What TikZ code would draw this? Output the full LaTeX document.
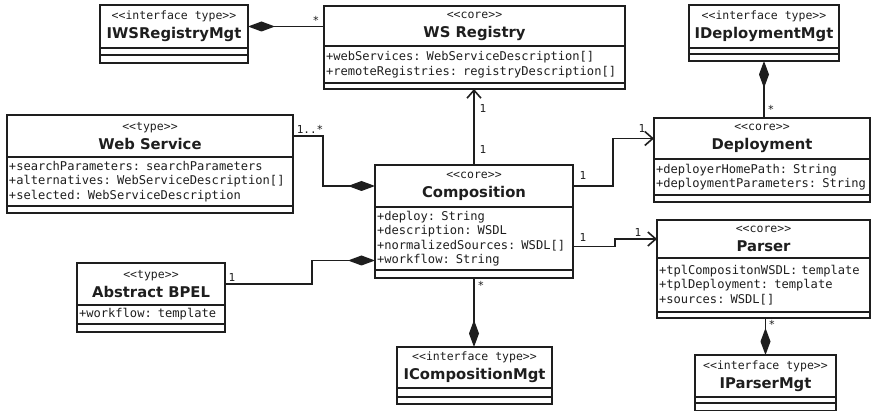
\documentclass[tikz,border=0pt]{standalone}
\usepackage{fontspec}
\setmainfont{DejaVu Sans}
\setmonofont{DejaVu Sans Mono}
\usetikzlibrary{arrows.meta, positioning}
\definecolor{umlink}{RGB}{30,30,30}
\newcommand{\umlstereo}[1]{{\mdseries\ttfamily\fontsize{11.5}{13}\selectfont <<#1>>}}
\tikzset{
  clsname/.style={rectangle, draw=umlink, line width=1.6pt, text=umlink, outer sep=0pt,
    minimum height=42pt, inner sep=0pt, align=center,
    font=\fontsize{14.8}{19}\selectfont\bfseries},
  clsattr/.style={rectangle, draw=umlink, line width=1.6pt, text=umlink, outer sep=0pt,
    inner xsep=2pt, inner ysep=0pt, align=left,
    font=\ttfamily\fontsize{12.1}{14.5}\selectfont},
  clsops/.style={rectangle, draw=umlink, line width=1.6pt, outer sep=0pt,
    minimum height=7pt, inner sep=0pt},
  compo/.style={-{Diamond[length=27pt,width=10pt]}, line width=1.6pt, umlink},
  nav/.style={-{Straight Barb[length=8pt,width=14pt]}, line width=1.6pt, umlink},
  mult/.style={anchor=base, inner sep=0pt, text=umlink,
    font=\ttfamily\fontsize{11}{12}\selectfont}
}
\begin{document}
\begin{tikzpicture}[x=1pt, y=-1pt]
  \useasboundingbox (0,0) rectangle (871,411);
  % classes
  \node[clsname, minimum width=148pt, minimum height=43pt, anchor=north west] (iwsN) at (100,5) {\umlstereo{interface type}\\IWSRegistryMgt};
  \node[clsattr, text width=144pt, minimum height=7pt, below=0pt of iwsN] (iwsA) {};
  \node[clsops, minimum width=148pt, minimum height=8pt, below=0pt of iwsA] (iwsO) {};

  \node[clsname, minimum width=301pt, minimum height=40pt, anchor=north west] (wsN) at (324,6) {\umlstereo{core}\\WS Registry};
  \node[clsattr, text width=297pt, minimum height=37pt, below=0pt of wsN] (wsA) {+webServices: WebServiceDescription[]\\+remoteRegistries: registryDescription[]};
  \node[clsops, minimum width=301pt, minimum height=6pt, below=0pt of wsA] (wsO) {};

  \node[clsname, minimum width=150pt, minimum height=43pt, anchor=north west] (idepN) at (689,5) {\umlstereo{interface type}\\IDeploymentMgt};
  \node[clsattr, text width=146pt, minimum height=6pt, below=0pt of idepN] (idepA) {};
  \node[clsops, minimum width=150pt, minimum height=7pt, below=0pt of idepA] (idepO) {};

  \node[clsname, minimum width=286pt, anchor=north west] (wsvN) at (7,115) {\umlstereo{type}\\Web Service};
  \node[clsattr, text width=282pt, minimum height=49pt, below=0pt of wsvN] (wsvA) {+searchParameters: searchParameters\\+alternatives: WebServiceDescription[]\\+selected: WebServiceDescription};
  \node[clsops, minimum width=286pt, below=0pt of wsvA] (wsvO) {};

  \node[clsname, minimum width=198pt, anchor=north west] (compN) at (375,165) {\umlstereo{core}\\Composition};
  \node[clsattr, text width=194pt, minimum height=63pt, below=0pt of compN] (compA) {+deploy: String\\+description: WSDL\\+normalizedSources: WSDL[]\\+workflow: String};
  \node[clsops, minimum width=198pt, minimum height=8pt, below=0pt of compA] (compO) {};

  \node[clsname, minimum width=216pt, minimum height=41pt, anchor=north west] (depN) at (654,118) {\umlstereo{core}\\Deployment};
  \node[clsattr, text width=212pt, minimum height=36pt, below=0pt of depN] (depA) {+deployerHomePath: String\\+deploymentParameters: String};
  \node[clsops, minimum width=216pt, below=0pt of depA] (depO) {};

  \node[clsname, minimum width=213pt, minimum height=38pt, anchor=north west] (parN) at (657,220) {\umlstereo{core}\\Parser};
  \node[clsattr, text width=209pt, minimum height=54pt, below=0pt of parN] (parA) {+tplCompositonWSDL: template\\+tplDeployment: template\\+sources: WSDL[]};
  \node[clsops, minimum width=213pt, minimum height=6pt, below=0pt of parA] (parO) {};

  \node[clsname, minimum width=148pt, anchor=north west] (bpelN) at (77,263) {\umlstereo{type}\\Abstract BPEL};
  \node[clsattr, text width=144pt, minimum height=19pt, below=0pt of bpelN] (bpelA) {+workflow: template};
  \node[clsops, minimum width=148pt, minimum height=8pt, below=0pt of bpelA] (bpelO) {};

  \node[clsname, minimum width=155pt, minimum height=41pt, anchor=north west] (icompN) at (397,347) {\umlstereo{interface type}\\ICompositionMgt};
  \node[clsattr, text width=151pt, minimum height=9pt, below=0pt of icompN] (icompA) {};
  \node[clsops, minimum width=155pt, below=0pt of icompA] (icompO) {};

  \node[clsname, minimum width=141pt, anchor=north west] (iparN) at (695,355) {\umlstereo{interface type}\\IParserMgt};
  \node[clsattr, text width=137pt, minimum height=6pt, below=0pt of iparN] (iparA) {};
  \node[clsops, minimum width=141pt, minimum height=8pt, below=0pt of iparA] (iparO) {};

  % connectors
  \draw[compo] (iwsN.east -| wsN.west) -- (iwsN.east);
  \draw[nav] (compN.north) -- (compN.north |- wsO.south);
  \draw[compo] (depN.north -| idepO.south) -- (idepO.south);
  \draw[compo] (wsvN.east) -- ++(30,0) |- (compN.west);
  \draw[nav] (compN.east) -- ++(40,0) |- (depN.west);
  \draw[nav] ([yshift=-8pt]compA.east) -- ++(42,0) |- (parN.west);
  \draw[compo] (bpelN.east) -- ++(87,0) |- ([yshift=-22pt]compA.west);
  \draw[compo] (compO.south) -- (compO.south |- icompN.north);
  \draw[compo] (parO.south -| iparN.north) -- (iparN.north);

  % multiplicities
  \node[mult] (mIws) at (316,25) {*};
  \node[mult] (mWs) at (483,113) {1};
  \node[mult] (mCompWs) at (483,154) {1};
  \node[mult] (mCompDep) at (583,180) {1};
  \node[mult] (mDep) at (642,133) {1};
  \node[mult] (mIdep) at (771,114) {*};
  \node[mult] (mCompPar) at (583,242) {1};
  \node[mult] (mPar) at (638,237) {1};
  \node[mult] (mIpar) at (772,329) {*};
  \node[mult] (mIcomp) at (481,290) {*};
  \node[mult] (mWsv) at (310,134) {1..*};
  \node[mult] (mBpel) at (232,282) {1};
\end{tikzpicture}
\end{document}
